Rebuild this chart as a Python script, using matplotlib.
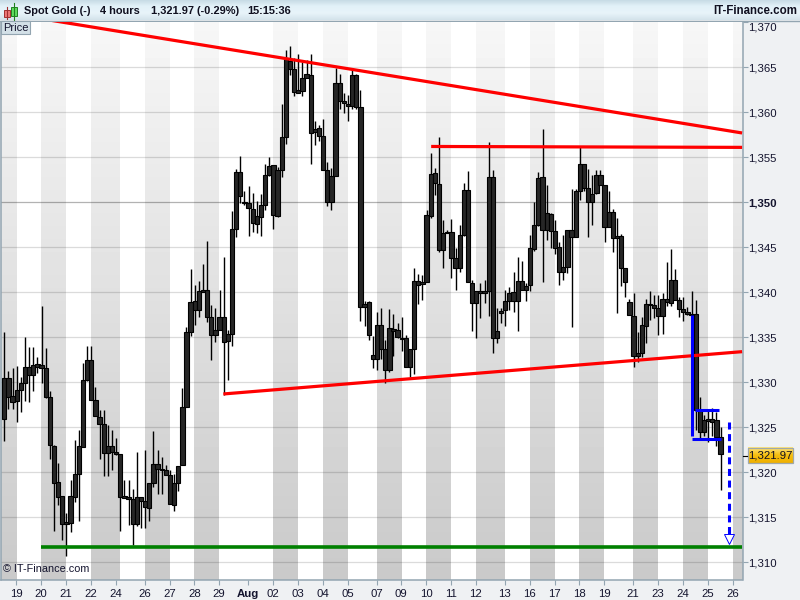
import matplotlib
matplotlib.use('Agg')
import matplotlib.pyplot as plt
from matplotlib.patches import Rectangle
from matplotlib.colors import LinearSegmentedColormap
import numpy as np

plt.rcParams['font.family'] = ['Liberation Sans', 'DejaVu Sans']

# 4 hour candles (prices)
high = [1335.6,1331.3,1331.6,1331.8,1330.6,1335.0,1333.9,1333.9,1332.8,1338.5,
        1333.8,1329.0,1323.0,1321.0,1317.4,1315.5,1319.1,1323.6,1324.7,1332.1,
        1334.0,1334.0,1329.5,1326.9,1326.9,1325.2,1324.7,1323.8,1322.0,1319.1,
        1319.1,1318.1,1322.3,1317.2,1322.5,1318.8,1324.6,1322.5,1321.7,1320.8,
        1320.2,1319.8,1320.7,1329.4,1336.1,1342.6,1340.8,1341.3,1343.1,1345.7,
        1338.6,1338.3,1340.3,1343.9,1335.8,1349.0,1353.7,1355.1,1351.3,1351.8,
        1351.0,1350.1,1350.9,1354.3,1355.0,1354.1,1353.9,1360.9,1366.9,1367.4,
        1366.0,1366.5,1365.6,1365.8,1366.5,1359.0,1358.6,1359.3,1354.5,1353.8,
        1364.9,1364.3,1362.1,1361.9,1364.9,1364.3,1362.5,1339.0,1339.0,1335.1,
        1337.8,1338.2,1334.7,1338.1,1337.6,1336.6,1337.2,1335.2,1333.7,1342.7,
        1342.0,1341.9,1349.1,1355.5,1353.8,1357.2,1348.0,1346.9,1348.1,1344.9,
        1347.5,1352.1,1353.5,1341.4,1340.1,1341.0,1341.4,1356.7,1353.6,1338.2,
        1338.2,1340.2,1340.6,1342.2,1343.9,1343.5,1341.0,1346.4,1350.0,1353.4,
        1358.1,1351.9,1348.8,1348.0,1345.6,1346.4,1346.9,1351.5,1351.5,1356.1,
        1354.3,1353.7,1353.0,1353.6,1353.6,1351.9,1351.2,1349.3,1348.2,1346.5,
        1342.7,1339.3,1339.9,1335.6,1337.3,1339.3,1340.1,1339.7,1339.7,1339.9,
        1343.4,1344.8,1342.6,1339.5,1339.5,1338.4,1340.1,1339.1,1328.4,1326.4,
        1326.9,1327.1,1326.7,1325.0]
body_top = [1330.5,1330.5,1328.5,1329.1,1329.9,1331.7,1331.7,1331.9,1332.0,1331.9,
            1331.6,1328.4,1322.9,1318.9,1317.4,1314.5,1317.4,1319.8,1322.9,1330.2,
            1332.5,1332.5,1328.0,1326.1,1325.4,1322.9,1322.9,1322.3,1322.0,1317.4,
            1317.2,1317.0,1317.2,1317.2,1316.8,1318.8,1320.9,1320.9,1320.4,1320.3,
            1319.7,1318.8,1320.7,1327.2,1335.6,1338.9,1339.0,1340.1,1340.2,1340.2,
            1337.2,1335.8,1337.3,1337.3,1335.4,1347.0,1353.4,1353.4,1350.0,1349.9,
            1349.3,1348.5,1349.7,1353.0,1354.0,1354.1,1353.6,1357.3,1365.9,1365.7,
            1364.8,1362.5,1363.8,1364.2,1364.1,1358.1,1358.2,1357.4,1353.6,1352.9,
            1363.2,1363.2,1361.3,1360.9,1364.1,1364.1,1360.6,1338.7,1338.9,1333.0,
            1336.4,1336.4,1333.7,1336.0,1335.9,1335.8,1334.9,1334.9,1333.7,1341.3,
            1341.3,1341.1,1348.6,1353.1,1353.2,1352.0,1346.6,1346.7,1346.7,1343.8,
            1346.4,1351.4,1351.4,1341.0,1340.1,1340.1,1340.1,1352.8,1352.8,1335.7,
            1337.9,1339.0,1339.9,1340.0,1341.3,1341.3,1340.7,1344.9,1347.5,1352.7,
            1352.8,1348.8,1348.7,1346.8,1345.0,1342.8,1346.9,1346.9,1351.3,1354.2,
            1354.3,1351.6,1350.9,1353.0,1353.0,1351.9,1348.9,1348.9,1346.3,1346.3,
            1342.7,1338.9,1337.4,1333.2,1336.4,1338.7,1338.7,1338.6,1338.2,1339.2,
            1339.2,1341.4,1341.4,1339.1,1338.1,1337.8,1337.6,1337.6,1326.9,1325.8,
            1325.9,1325.9,1325.8,1323.9]
body_bottom = [1325.9,1328.4,1327.8,1327.9,1329.1,1329.9,1330.8,1330.8,1331.7,1331.6,
               1328.4,1323.0,1318.8,1317.3,1314.3,1314.3,1314.4,1317.3,1319.8,1322.8,
               1330.2,1328.0,1326.2,1325.4,1322.1,1322.1,1322.2,1322.0,1317.3,1317.1,
               1317.0,1314.3,1314.3,1316.8,1316.1,1316.0,1318.8,1320.4,1320.3,1319.7,
               1316.5,1316.4,1318.8,1320.8,1327.2,1335.6,1338.0,1338.0,1340.0,1337.2,
               1335.2,1335.2,1335.8,1334.5,1334.6,1335.4,1347.0,1350.7,1349.9,1349.4,
               1347.7,1347.6,1348.4,1349.7,1353.0,1348.6,1348.5,1353.6,1357.3,1364.8,
               1362.2,1362.1,1362.4,1363.8,1357.7,1357.8,1357.4,1353.6,1350.0,1350.0,
               1352.9,1361.3,1361.0,1360.7,1360.7,1360.6,1338.4,1338.4,1335.3,1332.6,
               1332.6,1333.7,1331.4,1331.4,1335.7,1335.0,1334.8,1331.7,1331.7,1333.7,
               1340.8,1340.9,1341.1,1348.5,1352.1,1344.7,1344.7,1346.6,1343.8,1342.7,
               1342.7,1346.4,1341.1,1338.8,1338.8,1339.9,1339.9,1340.1,1334.9,1334.9,
               1337.7,1338.0,1339.0,1339.0,1339.0,1340.3,1340.3,1340.8,1344.8,1347.5,
               1346.9,1346.9,1346.8,1344.9,1342.3,1342.2,1342.8,1346.1,1346.1,1351.3,
               1351.6,1350.0,1350.0,1351.0,1351.9,1347.2,1347.2,1346.0,1346.0,1342.7,
               1341.1,1337.5,1332.9,1332.9,1333.3,1336.3,1338.6,1338.2,1337.4,1337.4,
               1338.9,1338.8,1339.1,1338.1,1337.8,1337.6,1337.5,1326.9,1324.5,1324.5,
               1325.7,1325.6,1323.9,1322.0]
low = [1323.5,1327.0,1327.0,1325.6,1326.7,1327.9,1327.8,1329.0,1331.0,1329.9,
       1328.2,1321.5,1313.5,1316.4,1312.5,1310.7,1313.4,1316.7,1314.6,1322.8,
       1330.1,1328.0,1326.2,1321.5,1319.6,1319.6,1320.2,1321.9,1313.5,1317.1,
       1314.1,1311.9,1314.0,1313.8,1313.8,1314.6,1318.4,1317.6,1317.6,1319.7,
       1316.5,1315.7,1317.9,1320.8,1327.2,1335.1,1336.4,1337.3,1340.0,1336.7,
       1332.5,1334.5,1335.8,1328.6,1330.2,1334.0,1346.1,1349.9,1349.7,1346.3,
       1346.7,1346.6,1346.3,1349.1,1352.9,1347.0,1348.4,1352.8,1356.5,1364.1,
       1361.8,1362.1,1361.8,1363.8,1354.2,1356.4,1356.8,1353.6,1349.6,1349.1,
       1352.9,1360.4,1359.9,1359.0,1360.4,1360.4,1336.8,1336.3,1334.7,1331.6,
       1331.4,1332.6,1329.9,1331.1,1332.9,1334.9,1333.5,1331.7,1330.6,1330.9,
       1338.7,1339.1,1341.1,1348.3,1350.8,1344.5,1342.7,1346.6,1341.6,1340.2,
       1342.2,1346.3,1341.1,1335.7,1334.9,1337.1,1338.8,1337.4,1333.3,1334.4,
       1336.6,1336.2,1338.0,1337.8,1335.7,1340.3,1339.0,1340.1,1344.6,1347.4,
       1341.1,1345.8,1344.9,1344.3,1340.8,1341.4,1342.1,1336.1,1346.1,1350.3,
       1351.3,1346.1,1347.5,1350.9,1351.9,1345.6,1347.2,1344.5,1337.7,1340.7,
       1339.5,1337.5,1331.7,1332.2,1332.8,1334.4,1336.9,1337.1,1335.3,1335.4,
       1338.5,1338.5,1339.1,1337.2,1336.8,1337.5,1336.6,1324.7,1323.8,1324.0,
       1323.4,1324.0,1322.9,1318.0]

# date axis: tick position is a candle number
day_ticks = [3,9,15,21,27,34,40,46,52,59,65,71,77,83,90,96,102,108,114,121,127,133,139,145,152,158,164,170,176]
day_labels = ['19','20','21','22','24','26','27','28','29','Aug','02','03','04','05','07','09',
              '10','11','12','13','16','17','18','19','21','23','24','25','26']
day_bands = [(-1,3),(9,15),(21,28),(34,40),(46,52),(65,71),(77,83),(90,96),(102,108),
             (114,121),(127,133),(139,145),(152,158),(164,170),(176,179)]
price_ticks = [1310,1315,1320,1325,1330,1335,1340,1345,1350,1355,1360,1365,1370]

# hand drawn lines on the chart
resistance_x, resistance_y = [11.6,178.3], [1370.2,1357.7]
flat_x, flat_y = [103.2,178.3], [1356.2,1356.1]
support_x, support_y = [53.0,178.3], [1328.7,1333.4]
floor_x, floor_y = [9.0,178.3], [1311.7,1311.7]
flag_pole_x, flag_pole_y = [166.1,166.1], [1337.5,1324.0]
flag_top_x, flag_top_y = [166.9,172.8], [1326.9,1326.9]
flag_bottom_x, flag_bottom_y = [166.1,173.1], [1323.7,1323.7]
target_x, target_y = [175.2,175.2], [1325.6,1313.0]

last_price = 1321.97
label_color = '#14142e'
edge_color = '#93a5b1'
W, H = 800, 600

fig = plt.figure(figsize=(W/100, H/100), dpi=100, facecolor='#eff1f3')

# window chrome, in pixels
bg = fig.add_axes([0, 0, 1, 1], zorder=0)
bg.set_xlim(0, W)
bg.set_ylim(H, 0)
bg.axis('off')
header = LinearSegmentedColormap.from_list('header', ['#c3d8e2', '#e2f1f8', '#e8f4fa', '#d3e3eb'])
bg.imshow(np.linspace(0, 1, 64).reshape(-1, 1), cmap=header, extent=[0, W, 20.5, 0], aspect='auto')
bg.set_xlim(0, W)
bg.set_ylim(H, 0)
bg.plot([0, W], [20.5, 20.5], color=edge_color, lw=1)
# little candle icon
bg.plot([6.5, 6.5], [7, 19], color='#a03030', lw=0.8)
bg.add_patch(Rectangle((3.5, 10), 6, 7, fc='#ee7777', ec='#a03030', lw=0.7))
bg.plot([14, 14], [3, 20], color='#208020', lw=0.8)
bg.add_patch(Rectangle((11, 7), 6, 9, fc='#5fdc5f', ec='#208020', lw=0.7))

head_font = dict(fontsize=7.9, fontweight='bold', color='#101020', va='center')
bg.text(24, 11, 'Spot Gold (-)', **head_font)
bg.text(100, 11, '4 hours', **head_font)
bg.text(151, 11, '1,321.97 (-0.29%)', **head_font)
bg.text(247, 11, '15:15:36', **head_font)
bg.text(797, 11, 'IT-Finance.com', ha='right', fontsize=8.3, fontweight='bold', color='#101020', va='center')

ax = fig.add_axes([1/W, 20/H, 741.5/W, 558/H], zorder=1)
x = np.arange(len(high)) + 0.1

# day bands with the grey fade
for x0, x1 in day_bands:
    ax.imshow(np.linspace(0.97, 0.79, 128).reshape(-1, 1), cmap='gray', vmin=0, vmax=1,
              extent=[x0, x1, 1308, 1371], aspect='auto', zorder=0)

for p in price_ticks[:-1]:
    ax.axhline(p, color='black', alpha=0.3 if p == 1350 else 0.14, lw=0.9, zorder=1)

# candles
ax.vlines(x, low, high, color='black', lw=1.0, zorder=2)
heights = np.array(body_top) - np.array(body_bottom)
ax.bar(x, heights, bottom=body_bottom, width=1.04, color='#262626', edgecolor='black', lw=0.8, zorder=3)

ax.plot(resistance_x, resistance_y, color='#ff0000', lw=2.3, zorder=4, solid_capstyle='butt')
ax.plot(flat_x, flat_y, color='#ff0000', lw=2.3, zorder=4, solid_capstyle='butt')
ax.plot(support_x, support_y, color='#ff0000', lw=2.3, zorder=4, solid_capstyle='butt')
ax.plot(floor_x, floor_y, color='#008000', lw=2.6, zorder=4, solid_capstyle='butt')
for xs, ys in [(flag_pole_x, flag_pole_y), (flag_top_x, flag_top_y), (flag_bottom_x, flag_bottom_y)]:
    ax.plot(xs, ys, color='#0000ff', lw=2.2, zorder=5, solid_capstyle='butt')
ax.plot(target_x, target_y, color='#0000ff', lw=2.2, ls=(0, (2.3, 1.5)), zorder=5)
ax.plot(target_x[1], 1312.6, marker='v', ms=7.5, mfc='white', mec='#0000ff', mew=0.7, zorder=6)

ax.set_xlim(-0.705, 178.4)
ax.set_ylim(1308.03, 1370.03)

ax.yaxis.tick_right()
ax.set_yticks(price_ticks)
ax.set_yticklabels([f'{p:,}' for p in price_ticks])
ax.set_xticks(day_ticks)
ax.set_xticklabels(day_labels)
ax.tick_params(axis='y', length=3.5, width=0.8, color=edge_color, labelsize=8.2, labelcolor=label_color, pad=0.8)
ax.tick_params(axis='x', length=3.5, width=0.8, color=edge_color, labelsize=8.2, labelcolor=label_color, pad=3.2)
for lab in ax.get_yticklabels():
    if lab.get_text() == '1,350':
        lab.set_fontweight('bold')
    if lab.get_text() == '1,370':
        lab.set_va('top')
for lab in ax.get_xticklabels():
    if lab.get_text() == 'Aug':
        lab.set_fontweight('bold')

ax.spines['top'].set_visible(False)
for s in ['left', 'right', 'bottom']:
    ax.spines[s].set_color(edge_color)
    ax.spines[s].set_linewidth(1.1)

ax.text(0.003, 0.0105, '© IT-Finance.com', transform=ax.transAxes, fontsize=7.8, color='#14142e', va='bottom', zorder=7)

# Price tab and last price box, on top of everything
top = fig.add_axes([0, 0, 1, 1], zorder=2)
top.set_xlim(0, W)
top.set_ylim(H, 0)
top.axis('off')
top.patch.set_alpha(0)
top.add_patch(Rectangle((1, 21), 28.5, 13, fc='#d3e0e7', ec=edge_color, lw=0.8))
top.text(3, 28, 'Price', fontsize=8, color=label_color, va='center')
gold = LinearSegmentedColormap.from_list('gold', ['#ffe680', '#f6bf10', '#f0b000'])
top.imshow(np.linspace(0, 1, 32).reshape(-1, 1), cmap=gold, extent=[747.5, 792.5, 463, 447.5], aspect='auto')
top.set_xlim(0, W)
top.set_ylim(H, 0)
top.add_patch(Rectangle((747.5, 447.5), 45, 15.5, fc='none', ec='#a0a8a8', lw=0.9))
top.plot([743, 747], [455.5, 455.5], color='black', lw=0.8)
top.text(770, 455.5, f'{last_price:,}', fontsize=8.2, color='#101020', ha='center', va='center')

fig.savefig('out.png', dpi=100)
